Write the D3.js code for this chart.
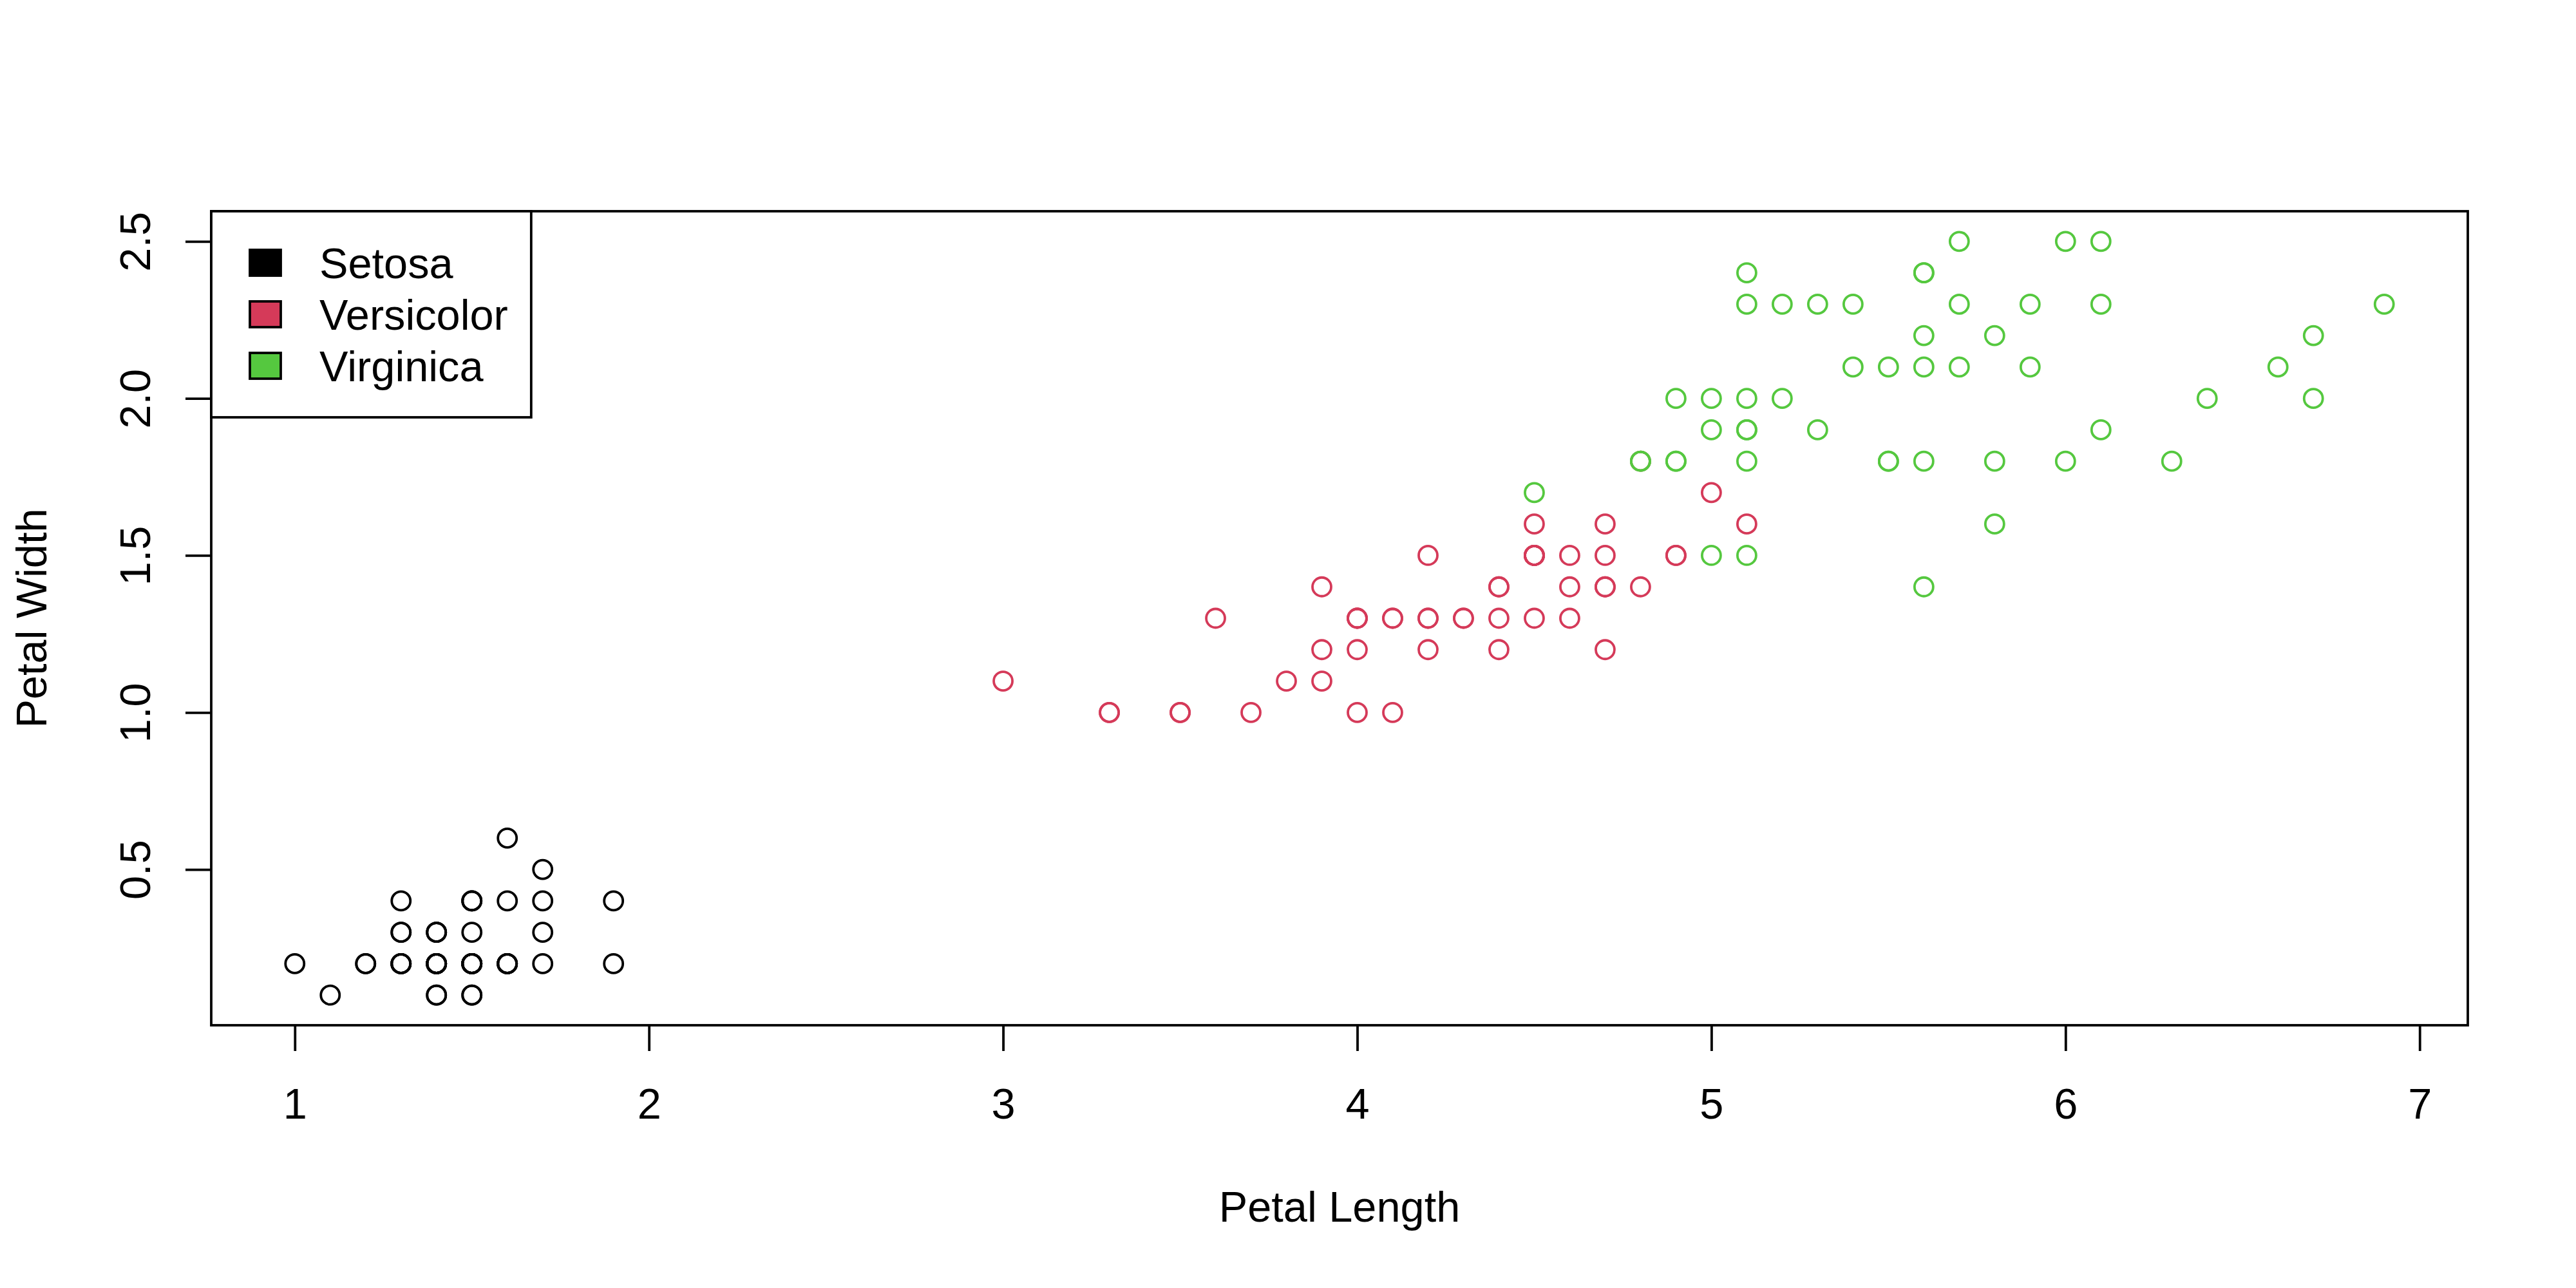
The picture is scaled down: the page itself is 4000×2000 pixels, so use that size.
<!DOCTYPE html>
<html>
<head>
<meta charset="utf-8">
<script src="https://cdn.jsdelivr.net/npm/d3@7"></script>
<style>
  html, body { margin: 0; padding: 0; background: #fff; }
  svg { display: block; }
  text { font-family: "Liberation Sans", Arial, Helvetica, sans-serif; fill: #000; }
</style>
</head>
<body>
<svg id="chart" width="4000" height="2000"></svg>
<script>
// ---- data ----
const species = ["Setosa", "Versicolor", "Virginica"];
const speciesColors = ["#000000", "#D53A59", "#55C83F"];

const setosaLength = [1.4,1.4,1.3,1.5,1.4,1.7,1.4,1.5,1.4,1.5,1.5,1.6,1.4,1.1,1.2,1.5,1.3,1.4,1.7,1.5,1.7,1.5,1.0,1.7,1.9,1.6,1.6,1.5,1.4,1.6,1.6,1.5,1.5,1.4,1.5,1.2,1.3,1.4,1.3,1.5,1.3,1.3,1.3,1.6,1.9,1.4,1.6,1.4,1.5,1.4];
const setosaWidth  = [0.2,0.2,0.2,0.2,0.2,0.4,0.3,0.2,0.2,0.1,0.2,0.2,0.1,0.1,0.2,0.4,0.4,0.3,0.3,0.3,0.2,0.4,0.2,0.5,0.2,0.2,0.4,0.2,0.2,0.2,0.2,0.4,0.1,0.2,0.2,0.2,0.2,0.1,0.2,0.2,0.3,0.3,0.2,0.6,0.4,0.3,0.2,0.2,0.2,0.2];

const versicolorLength = [4.7,4.5,4.9,4.0,4.6,4.5,4.7,3.3,4.6,3.9,3.5,4.2,4.0,4.7,3.6,4.4,4.5,4.1,4.5,3.9,4.8,4.0,4.9,4.7,4.3,4.4,4.8,5.0,4.5,3.5,3.8,3.7,3.9,5.1,4.5,4.5,4.7,4.4,4.1,4.0,4.4,4.6,4.0,3.3,4.2,4.2,4.2,4.3,3.0,4.1];
const versicolorWidth  = [1.4,1.5,1.5,1.3,1.5,1.3,1.6,1.0,1.3,1.4,1.0,1.5,1.0,1.4,1.3,1.4,1.5,1.0,1.5,1.1,1.8,1.3,1.5,1.2,1.3,1.4,1.4,1.7,1.5,1.0,1.1,1.0,1.2,1.6,1.5,1.6,1.5,1.3,1.3,1.3,1.2,1.4,1.2,1.0,1.3,1.2,1.3,1.3,1.1,1.3];

const virginicaLength = [6.0,5.1,5.9,5.6,5.8,6.6,4.5,6.3,5.8,6.1,5.1,5.3,5.5,5.0,5.1,5.3,5.5,6.7,6.9,5.0,5.7,4.9,6.7,4.9,5.7,6.0,4.8,4.9,5.6,5.8,6.1,6.4,5.6,5.1,5.6,6.1,5.6,5.5,4.8,5.4,5.6,5.1,5.1,5.9,5.7,5.2,5.0,5.2,5.4,5.1];
const virginicaWidth  = [2.5,1.9,2.1,1.8,2.2,2.1,1.7,1.8,1.8,2.5,2.0,1.9,2.1,2.0,2.4,2.3,1.8,2.2,2.3,1.5,2.3,2.0,2.0,1.8,2.1,1.8,1.8,1.8,2.1,1.6,1.9,2.0,2.2,1.5,1.4,2.3,2.4,1.8,1.8,2.1,2.4,2.3,1.9,2.3,2.5,2.3,1.9,2.0,2.3,1.8];

const xTicks = [1, 2, 3, 4, 5, 6, 7];
const yTicks = [0.5, 1.0, 1.5, 2.0, 2.5];
const xTitle = "Petal Length";
const yTitle = "Petal Width";

// ---- layout ----
const W = 4000, H = 2000;
const plot = { left: 328, right: 3832, top: 328, bottom: 1592 };
const fontSize = 66.7;
const lw = 3.8;

const lengths = [setosaLength, versicolorLength, virginicaLength];
const widths = [setosaWidth, versicolorWidth, virginicaWidth];
const allL = lengths.flat(), allW = widths.flat();

function rExtend(ext) { const d = (ext[1] - ext[0]) * 0.04; return [ext[0] - d, ext[1] + d]; }

const x = d3.scaleLinear().domain(rExtend(d3.extent(allL))).range([plot.left, plot.right]);
const y = d3.scaleLinear().domain(rExtend(d3.extent(allW))).range([plot.bottom, plot.top]);

const svg = d3.select("#chart");

// points
species.forEach((s, i) => {
  const pts = lengths[i].map((v, j) => ({ l: v, w: widths[i][j] }));
  svg.append("g").selectAll("circle").data(pts).join("circle")
    .attr("cx", d => x(d.l))
    .attr("cy", d => y(d.w))
    .attr("r", 14.5)
    .attr("fill", "none")
    .attr("stroke", speciesColors[i])
    .attr("stroke-width", lw);
});

// x axis
const xAxis = d3.axisBottom(x).tickValues(xTicks).tickFormat(d3.format("d"))
  .tickSizeInner(40).tickSizeOuter(0).tickPadding(0);
const gx = svg.append("g").attr("transform", `translate(0,${plot.bottom})`).call(xAxis);
gx.select(".domain").remove();
gx.selectAll(".tick line").attr("stroke", "#000").attr("stroke-width", lw);
gx.selectAll(".tick text")
  .attr("y", 145).attr("dy", null)
  .attr("font-size", fontSize)
  .attr("font-family", '"Liberation Sans", Arial, sans-serif')
  .attr("fill", "#000");

// y axis
const yAxis = d3.axisLeft(y).tickValues(yTicks).tickFormat(d3.format(".1f"))
  .tickSizeInner(40).tickSizeOuter(0).tickPadding(0);
const gy = svg.append("g").attr("transform", `translate(${plot.left},0)`).call(yAxis);
gy.select(".domain").remove();
gy.selectAll(".tick line").attr("stroke", "#000").attr("stroke-width", lw);
gy.selectAll(".tick text")
  .attr("x", null).attr("dy", null)
  .attr("text-anchor", "middle")
  .attr("transform", "translate(-95,0) rotate(-90)")
  .attr("font-size", fontSize)
  .attr("font-family", '"Liberation Sans", Arial, sans-serif')
  .attr("fill", "#000");

// frame
svg.append("rect")
  .attr("x", plot.left).attr("y", plot.top)
  .attr("width", plot.right - plot.left).attr("height", plot.bottom - plot.top)
  .attr("fill", "none").attr("stroke", "#000").attr("stroke-width", lw);

// titles
svg.append("text")
  .attr("x", (plot.left + plot.right) / 2).attr("y", plot.bottom + 305)
  .attr("text-anchor", "middle").attr("font-size", fontSize)
  .text(xTitle);
svg.append("text")
  .attr("transform", `translate(${plot.left - 256},${(plot.top + plot.bottom) / 2}) rotate(-90)`)
  .attr("text-anchor", "middle").attr("font-size", fontSize)
  .text(yTitle);

// legend
const xchar = 60, ychar = 80, xbox = 48, ybox = 40;
const leg = svg.append("g");
const legItems = species.map((s, i) => ({ s, c: speciesColors[i], i }));
const txt = leg.selectAll("text").data(legItems).join("text")
  .attr("x", plot.left + xchar + xbox + xchar)
  .attr("y", d => plot.top + ychar * (d.i + 1) + 24)
  .attr("font-size", fontSize)
  .text(d => d.s);
let tw = 0;
txt.each(function () { tw = Math.max(tw, this.getComputedTextLength()); });
const legW = tw + 2 * xchar + xbox + 0.5 * xchar + 6;
const legH = species.length * ychar + ychar;
leg.insert("rect", "text")
  .attr("x", plot.left).attr("y", plot.top)
  .attr("width", legW).attr("height", legH)
  .attr("fill", "#fff").attr("stroke", "#000").attr("stroke-width", lw);
leg.selectAll("rect.box").data(legItems).join("rect")
  .attr("class", "box")
  .attr("x", plot.left + xchar)
  .attr("y", d => plot.top + ychar * (d.i + 1) - ybox / 2)
  .attr("width", xbox).attr("height", ybox)
  .attr("fill", d => d.c).attr("stroke", "#000").attr("stroke-width", lw);
</script>
</body>
</html>
